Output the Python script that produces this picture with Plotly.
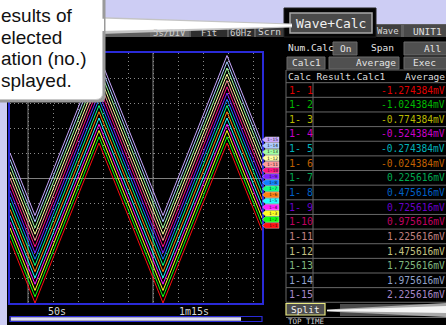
import plotly.graph_objects as go

# ---------------- data ----------------
channels = ["1- 1", "1- 2", "1- 3", "1- 4", "1- 5", "1- 6", "1- 7", "1- 8",
            "1- 9", "1-10", "1-11", "1-12", "1-13", "1-14", "1-15"]
tag_labels = ["1-1", "1-2", "1-3", "1-4", "1-5", "1-6", "1-7", "1-8",
              "1-9", "1-10", "1-11", "1-12", "1-13", "1-14", "1-15"]
averages = [-1.274384, -1.024384, -0.774384, -0.524384, -0.274384, -0.024384,
            0.225616, 0.475616, 0.725616, 0.975616, 1.225616, 1.475616,
            1.725616, 1.975616, 2.225616]
ch1_times = [46.4, 51.4, 64.2, 77.0, 89.8, 96.8]
ch1_values = [-2.5, -5.0, 1.4, -5.0, 1.4, -2.1]
x_tick_vals = [50, 75]
x_tick_text = ["50s", "1m15s"]

wave_colors = ["#ff1010", "#10ff10", "#ffff20", "#ff20ff", "#20ffff", "#ff8010",
               "#10ff80", "#1080ff", "#8020ff", "#ff1080", "#ff9a9a", "#ffffa0",
               "#a0ffa0", "#a8c8ff", "#c8a8ff"]
table_colors = ["#e00000", "#00b800", "#b8b800", "#c800c8", "#00b0b8", "#c06000",
                "#00a850", "#0060c8", "#6800c8", "#c00060", "#c08080", "#c0c080",
                "#80b880", "#90a0c8", "#a888c8"]

W, H = 446, 325
MONO = "DejaVu Sans Mono"
SANS = "Liberation Sans"
LAV = "#cdcdf4"

def px(x):
    return x / W

def py(y):
    return 1 - y / H

shapes = []
annos = []

def rect(x0, y0, x1, y1, fill, line=None, lw=1, layer="above"):
    shapes.append(dict(type="rect", xref="paper", yref="paper",
                       x0=px(x0), x1=px(x1), y0=py(y1), y1=py(y0),
                       fillcolor=fill, layer=layer,
                       line=dict(color=line if line else fill, width=lw if line else 0)))

def hline(x0, x1, y, color, lw=1):
    shapes.append(dict(type="line", xref="paper", yref="paper",
                       x0=px(x0), x1=px(x1), y0=py(y), y1=py(y),
                       line=dict(color=color, width=lw), layer="above"))

def vline(x, y0, y1, color, lw=1):
    shapes.append(dict(type="line", xref="paper", yref="paper",
                       x0=px(x), x1=px(x), y0=py(y0), y1=py(y1),
                       line=dict(color=color, width=lw), layer="above"))

def poly(points, fill, line=None, lw=1):
    path = "M " + " L ".join(f"{px(x):.5f},{py(y):.5f}" for x, y in points) + " Z"
    shapes.append(dict(type="path", xref="paper", yref="paper", path=path,
                       fillcolor=fill, layer="above",
                       line=dict(color=line if line else fill, width=lw if line else 0)))

def text(x, y, s, size=9.5, color="#e4e4e4", anchor="left", family=MONO):
    annos.append(dict(xref="paper", yref="paper", x=px(x), y=py(y), text=s,
                      showarrow=False, xanchor=anchor, yanchor="middle",
                      font=dict(family=family, size=size, color=color),
                      borderpad=0))

fig = go.Figure()

for i in range(len(channels) - 1, -1, -1):
    off = averages[i] - averages[0]
    fig.add_trace(go.Scatter(
        x=ch1_times, y=[v + off for v in ch1_values], mode="lines",
        line=dict(color=wave_colors[i], width=1), name=channels[i],
        showlegend=False, hoverinfo="skip"))

# ---------------- background / screen ----------------
rect(7, 24, 446, 325, "#000000", layer="below")

# solid major grid lines
for v in x_tick_vals:
    shapes.append(dict(type="line", xref="x", yref="y domain", x0=v, x1=v, y0=0, y1=1,
                       line=dict(color="#808080", width=1), layer="below"))

# top status bar
rect(103, 24, 446, 37, "#5e5e5e")
rect(150, 28, 189, 37, "#6c6c6c")
rect(191, 28, 227, 37, "#2e2e2e")
rect(229, 28, 254, 37, "#2e2e2e")
rect(256, 27, 284, 37, "#3c3c3c")
text(169, 33, "5s/DIV", size=9, color="#d0d0d0", anchor="center")
text(209, 33, "Fit", size=9, color="#d0d0d0", anchor="center")
text(241, 33, "60Hz", size=9, color="#d0d0d0", anchor="center")
text(257, 31, "Scrn", size=9.5, color="#d8d8d8")

# tabs on the right
rect(376, 25, 401, 37, "#3e3e3e")
rect(404, 25, 446, 37, "#4a4a4a")
text(388, 31, "Wave", size=9, color="#d8d8d8", anchor="center")
text(427, 31, "UNIT1", size=9.5, color="#e0e0e0", anchor="center")

# Wave+Calc popup
rect(284, 8, 376, 37, "#050505", line="#202020")
rect(290, 13, 372, 33, "#4a4a4a", line="#a8a8a8", lw=1.5)
text(331, 23, "Wave+Calc", size=13, color="#f0f0f0", anchor="center")

# panel controls
text(287, 48, "Num.Calc", size=9.5)
rect(333, 42, 357, 55, "#505050", line="#6a6a6a")
text(345, 48.5, "On", size=9.5, anchor="center")
text(370, 48, "Span", size=9.5)
rect(404, 42, 447, 55, "#505050", line="#6a6a6a")
text(442, 48.5, "All", size=9.5, anchor="right")
rect(287, 57, 325, 69, "#505050", line="#6a6a6a")
text(306, 63, "Calc1", size=9.5, anchor="center")
rect(329, 57, 399, 69, "#505050", line="#6a6a6a")
text(397, 63, "Average", size=9.5, anchor="right")
rect(404, 57, 447, 69, "#505050", line="#6a6a6a")
text(424, 63, "Exec", size=9.5, anchor="center")

# results table
row_h = 14.64
row0 = 90.0
grid_c = "#686868"
hline(286, 446, 70, grid_c)
top_rows = row0 - row_h / 2
hline(286, 446, top_rows, grid_c)
text(287, 76.5, "Calc Result.Calc1", size=9.5, color="#dcdcdc")
text(445.5, 76.5, "Average", size=9.5, color="#dcdcdc", anchor="right")
for i, name in enumerate(channels):
    yc = row0 + i * row_h
    hline(286, 446, yc + row_h / 2, grid_c)
    text(288, yc, name, size=10, color=table_colors[i])
    text(445.8, yc, f"{averages[i]:.6f}mV", size=9.6, color=table_colors[i], anchor="right")
bottom_rows = row0 + (len(channels) - 0.5) * row_h
vline(286, 70, bottom_rows, grid_c)
vline(313, top_rows, bottom_rows, grid_c)

# Split button + pointer
rect(340, 304, 446, 316, "#4a4a4a")
rect(286, 303.5, 325, 315, "#4e4e4e", line="#e8e880", lw=1.2)
text(305.5, 309.5, "Split", size=9.5, color="#f0f0f0", anchor="center")
poly([(327, 309.5), (446, 303), (446, 317), (327, 311.5)], "#a8a8a8")
poly([(327, 310), (446, 306), (446, 313), (327, 311)], "#f4f4f4")
hline(286, 446, 317.5, "#707070")
text(287, 321, "TOP TIME", size=7.5, color="#d0d0d0")

# channel tags at the right of the plot
for i, lab in enumerate(tag_labels):
    yc = 225.5 - i * 6.13
    poly([(262.5, yc), (265.5, yc - 2.8), (279, yc - 2.8), (279, yc + 2.8), (265.5, yc + 2.8)],
         wave_colors[i], line="#f0f0f0", lw=0.4)
    text(272.5, yc, lab, size=4.5, color="#202020", anchor="center")

# time labels and scrollbar
text(47, 311, x_tick_text[0], size=10, color="#d8d8d8")
text(178, 311, x_tick_text[1], size=10, color="#d8d8d8")
rect(10, 316.5, 262, 321.5, "#000000", line="#2a2ad8", lw=1.2)
rect(10.8, 317.2, 241, 320.8, "#dcdcf6")

# left lavender strip
rect(0, 0, 7, 325, LAV)

# callout pointer wedge to Wave+Calc
poly([(100, 17), (292, 23.5), (292, 27.5), (100, 34)], "#c4c4c4")
poly([(100, 18.5), (292, 24.5), (292, 26.5), (100, 31)], "#ffffff")

# callout box
shadow = "M {:.5f},{:.5f} L {:.5f},{:.5f} L {:.5f},{:.5f} Q {:.5f},{:.5f} {:.5f},{:.5f} L {:.5f},{:.5f} Z".format(
    px(-8), py(-8), px(105.5), py(-8), px(105.5), py(95.5), px(105.5), py(102.5), px(98.5), py(102.5),
    px(-8), py(102.5))
shapes.append(dict(type="path", xref="paper", yref="paper", path=shadow,
                   fillcolor="#9a9a9a", line=dict(width=0), layer="above"))
box = "M {:.5f},{:.5f} L {:.5f},{:.5f} L {:.5f},{:.5f} Q {:.5f},{:.5f} {:.5f},{:.5f} L {:.5f},{:.5f} Z".format(
    px(-8), py(-8), px(102.5), py(-8), px(102.5), py(93), px(102.5), py(99.5), px(96), py(99.5),
    px(-8), py(99.5))
shapes.append(dict(type="path", xref="paper", yref="paper", path=box,
                   fillcolor="#ffffff", line=dict(color="#c8c8c8", width=1), layer="above"))
poly([(98, 18.5), (104, 18.7), (104, 31), (98, 31.3)], "#ffffff")

callout_lines = ["esults of", "elected", "ation (no.)", "splayed."]
for k, s in enumerate(callout_lines):
    text(0, 15.5 + k * 21.7, s, size=19, color="#111111", family=SANS)

fig.update_layout(
    width=W, height=H,
    margin=dict(l=0, r=0, t=0, b=0),
    paper_bgcolor=LAV,
    plot_bgcolor="#000000",
    shapes=shapes,
    annotations=annos,
    showlegend=False,
    xaxis=dict(domain=[px(10), px(262)], range=[46.4, 96.8],
               tick0=50, dtick=5, showgrid=True, gridcolor="#8a8a8a", gridwidth=1,
               griddash="1px,3px", showticklabels=False, ticks="", zeroline=False,
               showline=True, mirror=True, linecolor="#2a2ad8", linewidth=2),
    yaxis=dict(domain=[py(303), py(53)], range=[-5, 5],
               tick0=0, dtick=1, showgrid=True, gridcolor="#8a8a8a", gridwidth=1,
               griddash="1px,3px", showticklabels=False, ticks="",
               zeroline=True, zerolinecolor="#808080", zerolinewidth=1,
               showline=True, mirror=True, linecolor="#2a2ad8", linewidth=2),
)

fig.write_html("out.html", config={"displayModeBar": False},
               post_script="document.body.style.margin='0';document.body.style.overflow='hidden';")
